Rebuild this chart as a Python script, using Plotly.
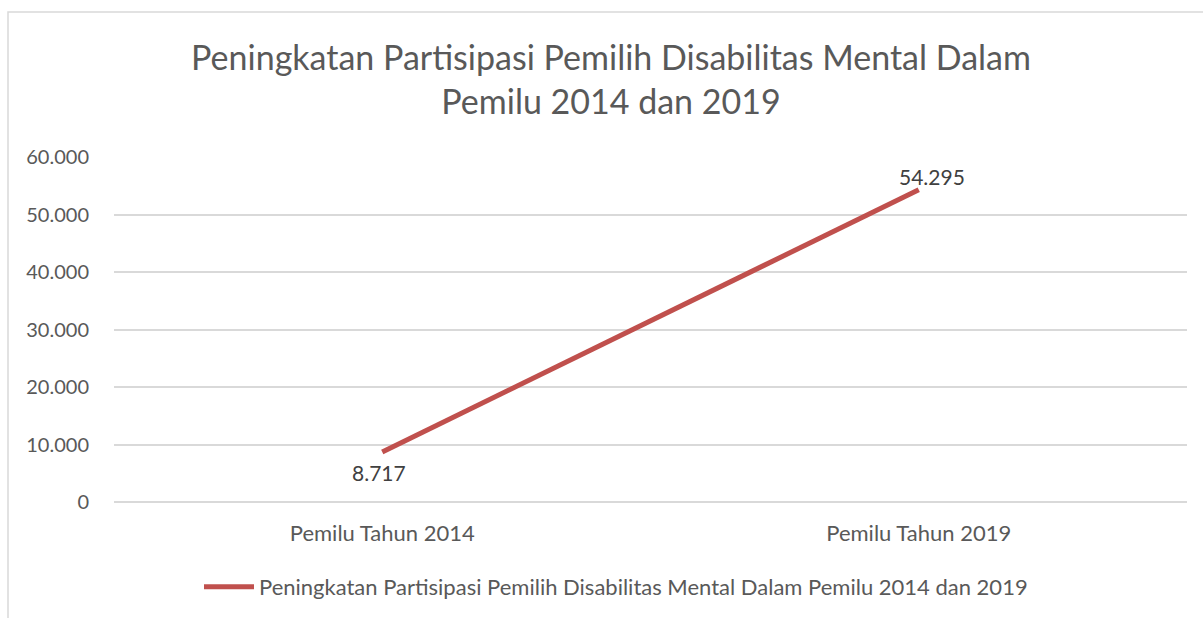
import plotly.graph_objects as go

categories = ["Pemilu Tahun 2014", "Pemilu Tahun 2019"]
values = [8717, 54295]
series_name = "Peningkatan Partisipasi Pemilih Disabilitas Mental Dalam Pemilu 2014 dan 2019"
title_text = "Peningkatan Partisipasi Pemilih Disabilitas Mental Dalam<br>Pemilu 2014 dan 2019"
y_ticks = [0, 10000, 20000, 30000, 40000, 50000, 60000]

W, H = 1203, 618
FONT = "Lato, 'Open Sans', sans-serif"

fig = go.Figure()
fig.add_trace(go.Scatter(
    x=categories, y=values, mode="lines", name=series_name,
    line=dict(color="#c0504d", width=5),
))

# data labels (Excel-like placement)
label_shifts = [(-3, -21), (13, 13)]
for cat, val, (dx, dy) in zip(categories, values, label_shifts):
    fig.add_annotation(x=cat, y=val, text=f"{val:,}".replace(",", "."), showarrow=False,
                       xshift=dx, yshift=dy, font=dict(size=21, color="#404040", family=FONT))

L, R, T, B = 114, W - 1187, 157, H - 502
PW, PH = W - L - R, H - T - B
fig.update_layout(
    width=W, height=H,
    margin=dict(l=L, r=R, t=T, b=B, autoexpand=False),
    paper_bgcolor="white", plot_bgcolor="white",
    separators=",.",
    font=dict(family=FONT, color="#595959"),
    title=dict(text=title_text, x=611 / W, xanchor="center", y=1 - 70 / H, yanchor="middle",
               yref="container", xref="container",
               font=dict(size=34, color="#595959", family=FONT)),
    xaxis=dict(showgrid=False, showline=False, zeroline=False, automargin=False,
               ticks="", tickfont=dict(size=22, color="#595959"), range=[-0.5, 1.5],
               ticklabelstandoff=16),
    yaxis=dict(range=[0, 60000], tickvals=y_ticks, automargin=False,
               tickformat=",d", showgrid=True, gridcolor="#d9d9d9", gridwidth=1.5,
               zeroline=True, zerolinecolor="#d9d9d9", zerolinewidth=1.5,
               showline=False, ticks="", tickfont=dict(size=20, color="#595959"),
               ticklabelstandoff=24),
    showlegend=True,
    legend=dict(orientation="h", x=(616 - L) / PW, xanchor="center", y=(H - 587 - B) / PH,
                yanchor="middle",
                font=dict(size=22, color="#595959", family=FONT), itemwidth=50),
    shapes=[dict(type="rect", xref="paper", yref="paper",
                 x0=(8 - L) / PW, x1=1.2, y0=-0.5,
                 y1=(H - 12 - B) / PH, line=dict(color="#d9d9d9", width=1.5),
                 layer="below")],
)

fig.write_html("out.html", config={"displayModeBar": False},
               post_script="document.body.style.margin='0';document.body.style.overflow='hidden';")
